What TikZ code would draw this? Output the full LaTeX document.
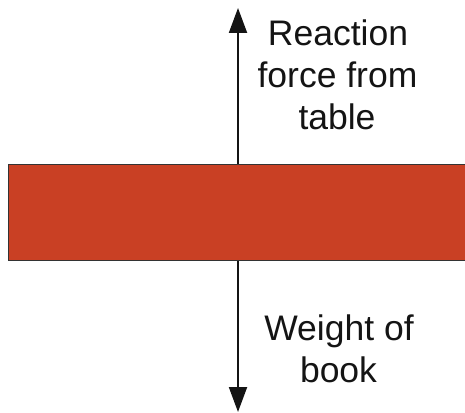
\documentclass[tikz,border=0pt]{standalone}
\usepackage{fontspec}
\setmainfont{Liberation Sans}
\usetikzlibrary{arrows.meta}
\definecolor{bookred}{RGB}{201,64,36}
\definecolor{ink}{RGB}{20,20,20}
\tikzset{
  force/.style={draw=ink, line width=2pt, -{Triangle[width=18pt,length=25pt]}},
  lbl/.style={anchor=base, inner sep=0pt, text=ink, font=\fontsize{35.5pt}{42pt}\selectfont},
  bookbox/.style={draw=black!80, line width=1pt, fill=bookred, inner sep=0pt}
}
\begin{document}
\begin{tikzpicture}[x=1pt,y=-1pt]
\useasboundingbox (0,0) rectangle (465,412);
\coordinate (mid) at (238,212);
\coordinate (top) at (238,8);
\coordinate (bot) at (238,412);
\draw[force] (mid) -- (top);
\draw[force] (mid) -- (bot);
\node[bookbox, minimum width=462pt, minimum height=95.3pt] (book) at (239.5,212.4) {};
\node[lbl] (r1) at (338,45.5) {Reaction};
\node[lbl] (r2) at (337.5,87.5) {force from};
\node[lbl] (r3) at (337,129.5) {table};
\node[lbl] (w1) at (339,340) {Weight of};
\node[lbl] (w2) at (338.5,382) {book};
\end{tikzpicture}
\end{document}
